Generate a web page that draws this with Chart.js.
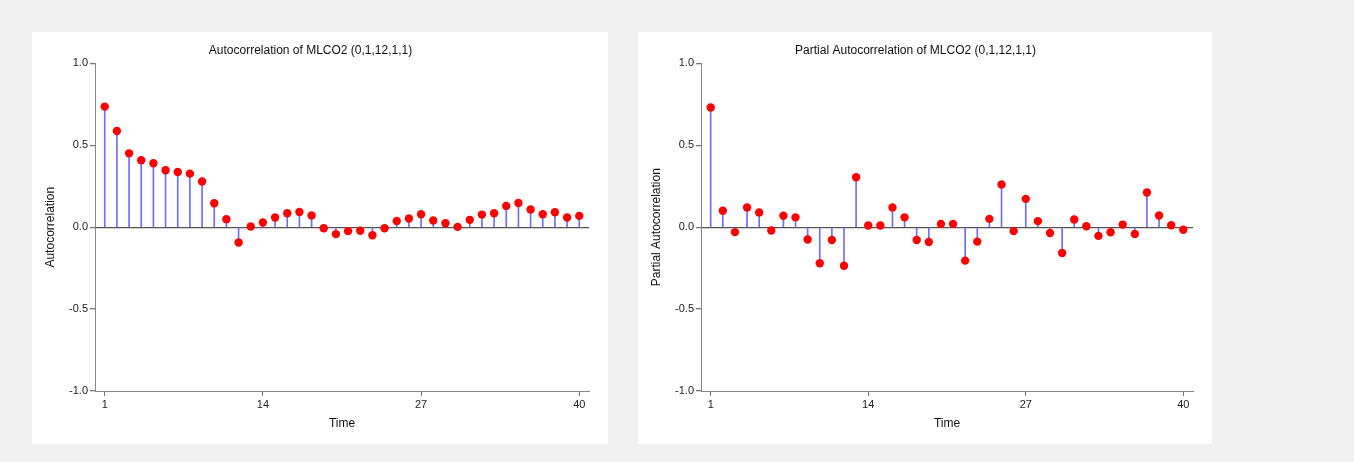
<!DOCTYPE html>
<html>
<head>
<meta charset="utf-8">
<script src="https://cdn.jsdelivr.net/npm/chart.js@4.4.1/dist/chart.umd.min.js"></script>
<style>
  body { margin: 0; background: #f0f0f0; width: 1354px; height: 462px; overflow: hidden; }
  .panel { position: absolute; background: #fff; }
</style>
</head>
<body>
<div class="panel" style="left:32px;top:32px;width:576px;height:412px;">
  <canvas id="acf_chart" width="576" height="412"></canvas>
</div>
<div class="panel" style="left:638px;top:32px;width:574px;height:412px;">
  <canvas id="pacf_chart" width="574" height="412"></canvas>
</div>
<script>
// lags shown on the x axis
const lags = [1, 2, 3, 4, 5, 6, 7, 8, 9, 10, 11, 12, 13, 14, 15, 16, 17, 18, 19, 20,
  21, 22, 23, 24, 25, 26, 27, 28, 29, 30, 31, 32, 33, 34, 35, 36, 37, 38, 39, 40];

// autocorrelations
const acf = [0.736, 0.587, 0.451, 0.409, 0.390, 0.348, 0.337, 0.327, 0.279, 0.146,
  0.049, -0.093, 0.004, 0.029, 0.059, 0.085, 0.093, 0.071, -0.006, -0.042,
  -0.024, -0.022, -0.049, -0.006, 0.038, 0.053, 0.079, 0.041, 0.024, 0.002,
  0.045, 0.077, 0.085, 0.130, 0.148, 0.108, 0.079, 0.091, 0.059, 0.069];

// partial autocorrelations
const pacf = [0.731, 0.100, -0.030, 0.120, 0.090, -0.020, 0.070, 0.060, -0.075, -0.220,
  -0.078, -0.235, 0.305, 0.010, 0.010, 0.120, 0.060, -0.078, -0.090, 0.020,
  0.020, -0.204, -0.088, 0.051, 0.261, -0.024, 0.173, 0.037, -0.035, -0.157,
  0.047, 0.006, -0.053, -0.031, 0.016, -0.041, 0.212, 0.071, 0.012, -0.016];

const xTicks = [1, 14, 27, 40];
const yTicks = [-1, -0.5, 0, 0.5, 1];

const FONT = "'Liberation Sans', Arial, sans-serif";

function corrChart(id, title, yLabel, values) {
  const pts = lags.map((l, i) => ({ x: l, y: values[i] }));
  new Chart(id, {
    type: 'bar',
    data: {
      datasets: [{
        type: 'bar',
        data: pts,
        backgroundColor: 'rgb(110,110,255)',
        borderWidth: 0,
        barThickness: 1,
        order: 2
      }, {
        type: 'scatter',
        data: pts,
        backgroundColor: '#ff0000',
        borderWidth: 0,
        pointRadius: 4.2,
        order: 1
      }]
    },
    options: {
      responsive: false,
      animation: false,
      layout: { padding: { left: 0, right: 19, bottom: 0, top: 0 } },
      plugins: {
        legend: { display: false },
        tooltip: { enabled: false },
        title: {
          display: true,
          text: title,
          color: '#111',
          font: { family: FONT, size: 12, weight: 'normal' },
          padding: { top: 11, bottom: 6 }
        }
      },
      scales: {
        x: {
          type: 'linear',
          offset: false,
          min: 0.2,
          max: 40.8,
          afterBuildTicks: s => { s.ticks = xTicks.map(v => ({ value: v })); },
          afterFit: s => { s.height = 53; },
          ticks: {
            color: '#222',
            font: { family: FONT, size: 11 },
            padding: 2,
            maxRotation: 0,
            autoSkip: false
          },
          grid: { offset: false, color: 'transparent', tickColor: '#777', tickLength: 5 },
          border: { color: '#888', width: 1 },
          title: {
            display: true,
            text: 'Time',
            color: '#111',
            font: { family: FONT, size: 12 },
            padding: { top: 4, bottom: 13 }
          }
        },
        y: {
          min: -1,
          max: 1,
          afterBuildTicks: s => { s.ticks = yTicks.map(v => ({ value: v })); },
          afterFit: s => { s.width = 63; },
          ticks: {
            color: '#222',
            font: { family: FONT, size: 11 },
            padding: 2,
            callback: v => v.toFixed(1)
          },
          grid: {
            color: c => (c.tick && c.tick.value === 0) ? '#555' : 'transparent',
            lineWidth: 1.3,
            tickColor: '#777',
            tickLength: 5
          },
          border: { color: '#888', width: 1 },
          title: {
            display: true,
            text: yLabel,
            color: '#111',
            font: { family: FONT, size: 12 },
            padding: { top: 11, bottom: 0 }
          }
        }
      }
    }
  });
}

corrChart('acf_chart', 'Autocorrelation of MLCO2 (0,1,12,1,1)', 'Autocorrelation', acf);
corrChart('pacf_chart', 'Partial Autocorrelation of MLCO2 (0,1,12,1,1)', 'Partial Autocorrelation', pacf);
</script>
</body>
</html>
